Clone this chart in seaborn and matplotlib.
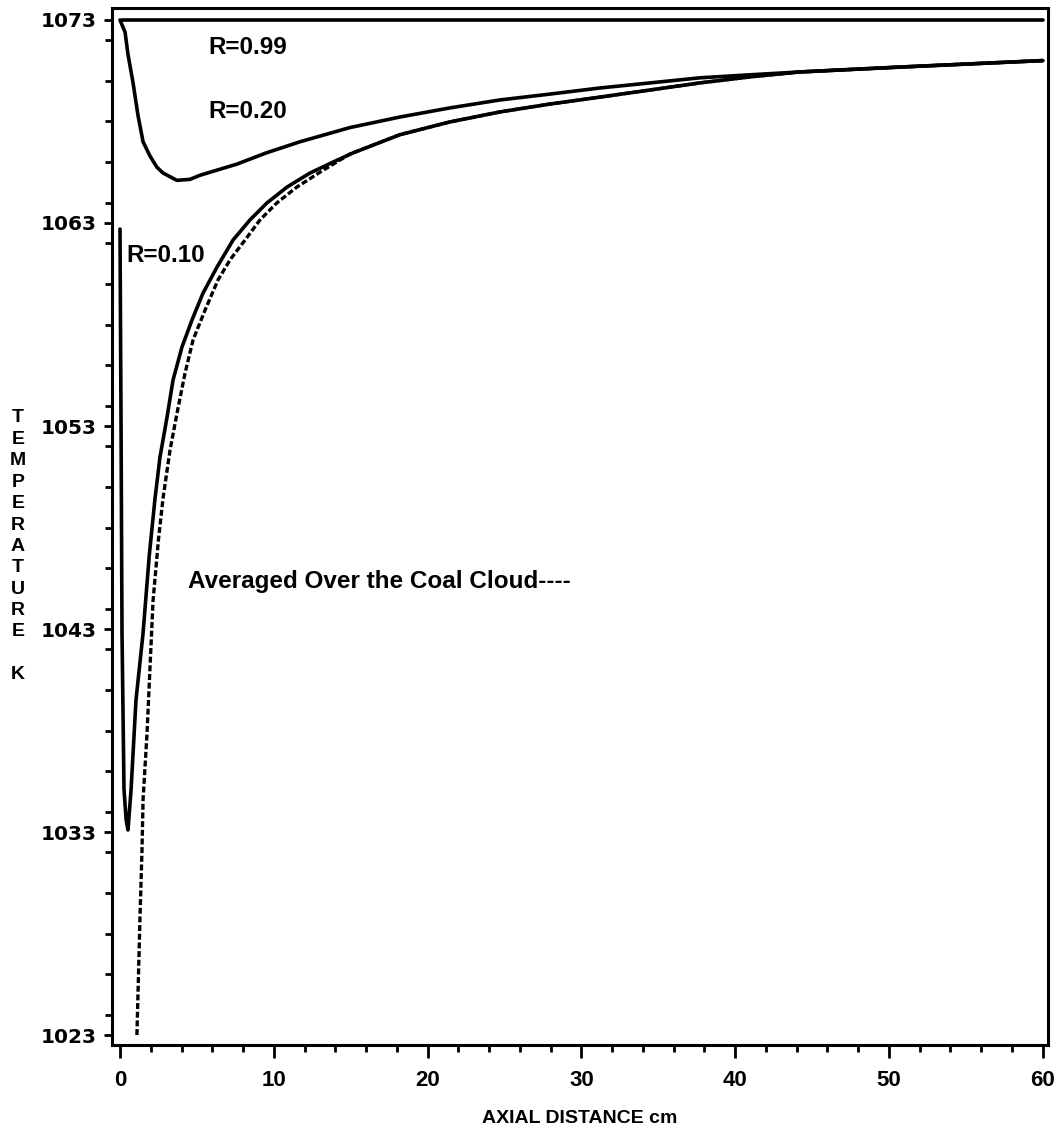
import matplotlib
matplotlib.use("Agg")
import matplotlib.pyplot as plt
from matplotlib.ticker import MultipleLocator
import seaborn as sns

# Axial distance (cm) and gas temperature (K) for each radial position
r099_x = [0.1, 60.0]
r099_t = [1073.0, 1073.0]

r020_x = [0.0, 0.33, 0.52, 0.85, 1.17, 1.5, 1.95, 2.15, 2.4, 2.8, 3.7, 4.55,
          5.2, 7.6, 9.5, 11.7, 14.95, 18.2, 21.46, 24.7, 27.96, 31.2,
          34.46, 37.7, 40.96, 44.2, 50.7, 60.0]
r020_t = [1073.0, 1072.4, 1071.3, 1069.9, 1068.3, 1067.0, 1066.3, 1066.05,
          1065.75, 1065.46, 1065.1, 1065.15, 1065.35, 1065.9, 1066.45,
          1067.0, 1067.7, 1068.22, 1068.67, 1069.06, 1069.35,
          1069.65, 1069.9, 1070.15, 1070.3, 1070.44, 1070.68, 1071.0]

r010_x = [0.0, 0.07, 0.13, 0.26, 0.4, 0.52, 0.72, 1.04, 1.5, 1.9, 2.28, 2.6,
          3.06, 3.45, 4.03, 4.68, 5.4, 6.31, 7.35, 8.45, 9.56, 10.86, 12.35,
          13.85, 15.15, 18.2, 21.46, 24.7, 27.96, 31.2, 34.46, 37.7, 41.0,
          44.2, 50.7, 60.0]
r010_t = [1062.7, 1052.8, 1042.85, 1035.1, 1033.6, 1033.1, 1035.1, 1039.5,
          1042.8, 1046.6, 1049.45, 1051.47, 1053.44, 1055.27, 1056.89,
          1058.22, 1059.55, 1060.83, 1062.16, 1063.15, 1063.99, 1064.77,
          1065.46, 1066.0, 1066.45, 1067.35, 1067.98, 1068.47, 1068.86,
          1069.2, 1069.55, 1069.9, 1070.2, 1070.44, 1070.68, 1071.0]

# Temperature averaged over the coal cloud
avg_x = [1.1, 1.3, 1.43, 1.5, 1.76, 1.95, 2.15, 2.5, 2.8, 3.25, 3.71, 4.23,
         4.75, 5.53, 6.37, 7.15, 8.13, 9.1, 10.2, 11.5, 13.0, 14.95, 18.2,
         21.46, 24.7, 27.96, 31.2, 34.46, 37.7, 41.0, 44.2, 50.7, 60.0]
avg_t = [1023.0, 1028.8, 1032.1, 1034.6, 1037.9, 1041.1, 1044.4, 1047.4,
         1049.45, 1051.8, 1053.64, 1055.61, 1057.24, 1058.71, 1060.19,
         1061.18, 1062.16, 1063.15, 1063.99, 1064.77, 1065.5, 1066.4,
         1067.35, 1067.98, 1068.47, 1068.86, 1069.2, 1069.55, 1069.9,
         1070.2, 1070.44, 1070.68, 1071.0]

x_ticks = [0, 10, 20, 30, 40, 50, 60]
y_ticks = [1023, 1033, 1043, 1053, 1063, 1073]

sns.set_theme(style="ticks")
plt.rcParams["font.family"] = ["Liberation Sans", "DejaVu Sans"]
plt.rcParams["font.weight"] = "bold"

W, H = 1061, 1135
fig = plt.figure(figsize=(W / 100, H / 100), dpi=100)
ax = fig.add_axes([112 / W, 1 - 1045 / H, (1048 - 112) / W, (1045 - 8) / H])

ink = "black"
sns.lineplot(x=avg_x, y=avg_t, ax=ax, color=ink, lw=2.4, sort=False,
             estimator=None, zorder=2, linestyle=(0, (1.8, 0.8)))
for xs, ts in [(r099_x, r099_t), (r020_x, r020_t), (r010_x, r010_t)]:
    sns.lineplot(x=xs, y=ts, ax=ax, color=ink, lw=2.6, sort=False,
                 estimator=None, zorder=3)

ax.set_xlim(-0.52, 60.34)
ax.set_ylim(1022.51, 1073.59)
ax.set_xticks(x_ticks)
ax.set_yticks(y_ticks)
ax.xaxis.set_minor_locator(MultipleLocator(2))
ax.yaxis.set_minor_locator(MultipleLocator(2))
ax.tick_params(axis="both", which="major", direction="out", width=2,
               color=ink, labelcolor=ink)
ax.tick_params(axis="x", which="major", length=9, pad=9)
ax.tick_params(axis="y", which="major", length=6, pad=5)
ax.tick_params(axis="both", which="minor", direction="out", length=5,
               width=2, color=ink)
for lab in ax.get_xticklabels():
    lab.set_fontfamily(["Liberation Sans", "DejaVu Sans"])
    lab.set_fontweight("bold")
    lab.set_fontsize(16)
for lab in ax.get_yticklabels():
    lab.set_fontfamily(["DejaVu Sans"])
    lab.set_fontweight("bold")
    lab.set_fontsize(14.5)
for sp in ax.spines.values():
    sp.set_visible(True)
    sp.set_linewidth(2.2)
    sp.set_color(ink)

ax.set_xlabel("AXIAL DISTANCE cm", fontsize=14,
              fontweight="bold", labelpad=14, color=ink)
ax.set_ylabel("")

# Curve labels
lab_kw = dict(fontsize=17.5, fontweight="bold", color=ink, va="center")
ax.text(8.32, 1071.62, "R=0.99", ha="center", **lab_kw)
ax.text(8.32, 1068.47, "R=0.20", ha="center", **lab_kw)
ax.text(2.99, 1061.42, "R=0.10", ha="center", **lab_kw)
ax.text(4.42, 1045.32, "Averaged Over the Coal Cloud----", ha="left", **lab_kw)

# Vertically stacked axis title
letters = list("TEMPERATURE") + ["", "K"]
top_px, pitch = 418, 21.4
for i, ch in enumerate(letters):
    if ch:
        fig.text(18 / W, 1 - (top_px + i * pitch) / H, ch, ha="center",
                 va="center", fontsize=14, fontweight="bold", color=ink)

fig.savefig("out.png", dpi=100, facecolor="white")
